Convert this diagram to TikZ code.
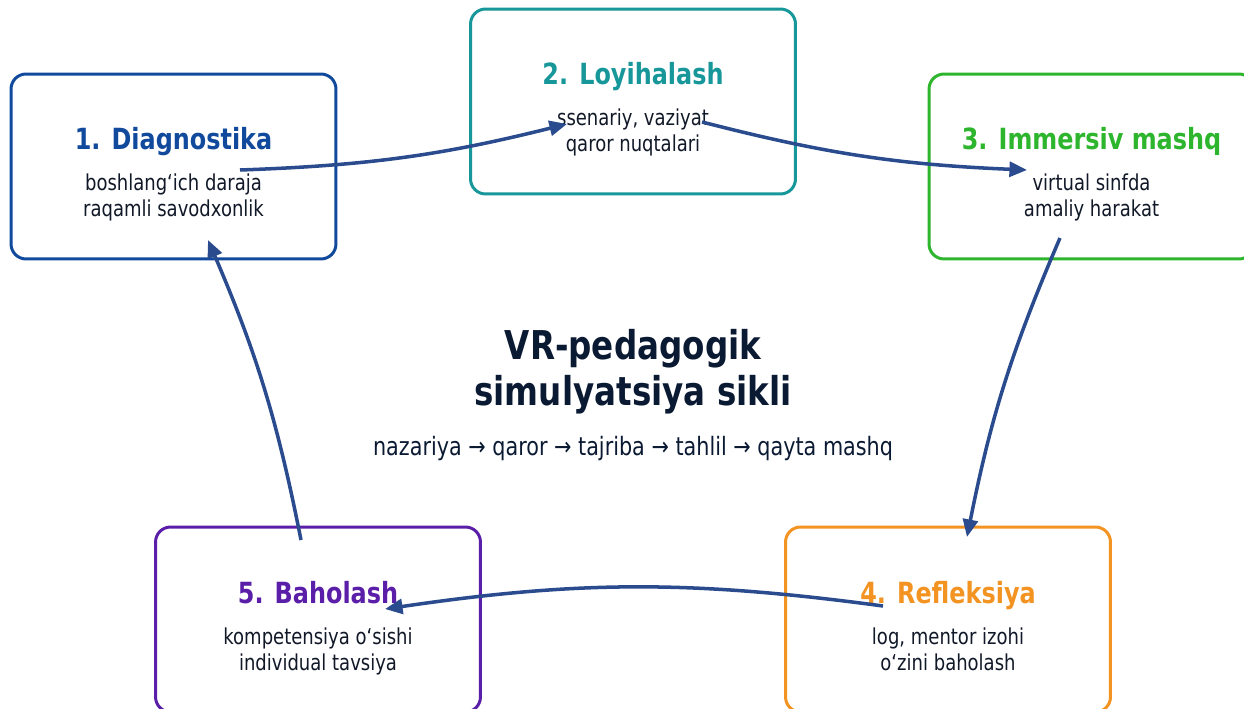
\documentclass[tikz,border=0pt]{standalone}
\usepackage{fontspec}
\setmainfont{DejaVu Sans}[FakeStretch=0.82]
\usetikzlibrary{arrows.meta}

\definecolor{diagblue}{HTML}{114A9C}
\definecolor{planteal}{HTML}{17979A}
\definecolor{immgreen}{HTML}{2DB52D}
\definecolor{reflorange}{HTML}{F29322}
\definecolor{evalpurple}{HTML}{5A1EA8}
\definecolor{cyclearrow}{HTML}{2A4B8D}
\definecolor{inktext}{HTML}{111827}
\definecolor{headnavy}{HTML}{0B1A33}

\tikzset{
    stage/.style={draw, line width=1.7pt, rounded corners=0.3cm,
        minimum width=6.5cm, minimum height=3.7cm, inner sep=0pt},
    stagehead/.style={anchor=base, font=\fontsize{16.6}{20}\selectfont\bfseries},
    stagetext/.style={anchor=base, align=center, text=inktext,
        font=\fontsize{12.5}{14.8}\selectfont},
    flow/.style={draw=cyclearrow, line width=2pt,
        -{Triangle[length=10pt,width=8.5pt]}, bend right=6},
}

\begin{document}
\begin{tikzpicture}[x=0.02cm, y=-0.02cm]
    \clip (0, 0) rectangle (1244, 709);

    % stage boxes
    \node[stage, draw=diagblue]   (diag) at (173.5, 166.5) {};
    \node[stage, draw=planteal]   (plan) at (633, 101.5) {};
    \node[stage, draw=immgreen]   (imm)  at (1091.5, 166.5) {};
    \node[stage, draw=reflorange] (refl) at (948, 619.5) {};
    \node[stage, draw=evalpurple] (eval) at (318, 619.5) {};

    % headings sit on their baseline, the two-line notes on the last one
    \node[stagehead, text=diagblue] (diag-head) at (173.5, 150) {1. Diagnostika};
    \node[stagetext] (diag-text) at (173.5, 217)
        {boshlang‘ich daraja\\raqamli savodxonlik};
    \node[stagehead, text=planteal] (plan-head) at (633, 85) {2. Loyihalash};
    \node[stagetext] (plan-text) at (633, 152)
        {ssenariy, vaziyat\\qaror nuqtalari};
    \node[stagehead, text=immgreen] (imm-head) at (1091.5, 150) {3. Immersiv mashq};
    \node[stagetext] (imm-text) at (1091.5, 217)
        {virtual sinfda\\amaliy harakat};
    \node[stagehead, text=reflorange] (refl-head) at (948, 603) {4. Refleksiya};
    \node[stagetext] (refl-text) at (948, 670)
        {log, mentor izohi\\o‘zini baholash};
    \node[stagehead, text=evalpurple] (eval-head) at (318, 603) {5. Baholash};
    \node[stagetext] (eval-text) at (318, 670)
        {kompetensiya o‘sishi\\individual tavsiya};

    % centre caption
    \node[anchor=base, align=center, text=headnavy,
        font=\fontsize{22.6}{26}\selectfont\bfseries] (cycle) at (633, 405)
        {VR-pedagogik\\simulyatsiya sikli};
    \node[anchor=base, text=headnavy, font=\fontsize{14.4}{17}\selectfont]
        (steps) at (633, 456)
        {nazariya → qaror → tajriba → tahlil → qayta mashq};

    % cycle arrows
    \draw[flow] ([shift={(66.5, 3.5)}]diag.center) to ([shift={(-66, 22.5)}]plan.center);
    \draw[flow] ([shift={(69, 20.5)}]plan.center) to ([shift={(-64.5, 3.5)}]imm.center);
    \draw[flow] ([shift={(-31.5, 71.5)}]imm.center) to ([shift={(19, -82.5)}]refl.center);
    \draw[flow, bend right=8] ([shift={(-65, -13.5)}]refl.center) to ([shift={(67, -10.5)}]eval.center);
    \draw[flow] ([shift={(-17, -79.5)}]eval.center) to ([shift={(34.5, 73.5)}]diag.center);
\end{tikzpicture}
\end{document}
